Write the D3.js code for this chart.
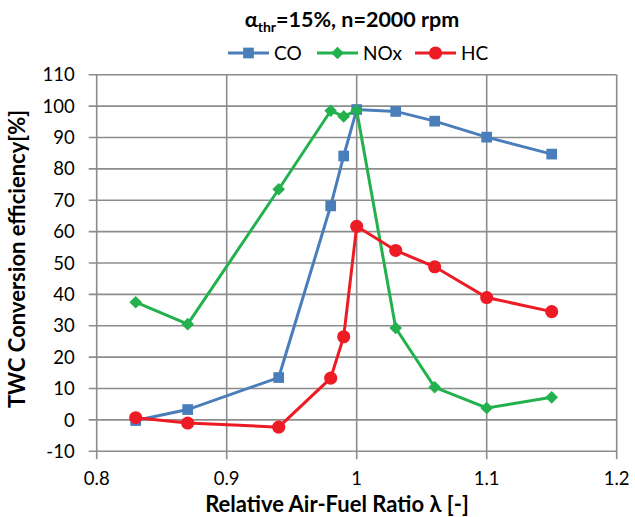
<!DOCTYPE html>
<html>
<head>
<meta charset="utf-8">
<script src="https://cdn.jsdelivr.net/npm/d3@7"></script>
<style>
  body { margin: 0; background: #fff; }
  text { font-family: Lato, "Open Sans", sans-serif; }
</style>
</head>
<body>
<svg id="chart"></svg>
<script>
// data
var lambda = [0.83, 0.87, 0.94, 0.98, 0.99, 1.0, 1.03, 1.06, 1.1, 1.15];
var coVals = [-0.2, 3.3, 13.5, 68.2, 84.1, 98.9, 98.3, 95.2, 90.1, 84.7];
var noxVals = [37.5, 30.5, 73.5, 98.5, 96.7, 98.6, 29.3, 10.4, 3.8, 7.2];
var hcVals = [0.7, -1.0, -2.3, 13.3, 26.5, 61.7, 54.0, 48.8, 39.0, 34.5];
var seriesNames = ["CO", "NOx", "HC"];
var xTicks = [0.8, 0.9, 1.0, 1.1, 1.2];
var xTickLabels = ["0.8", "0.9", "1", "1.1", "1.2"];
var yTicks = [-10, 0, 10, 20, 30, 40, 50, 60, 70, 80, 90, 100, 110];

var W = 635, H = 517;
var plotLeft = 96.7, plotTop = 74.7, width = 520, height = 376.6;

var colors = {CO: "#4a7ebb", NOx: "#22b14c", HC: "#ed1c24"};
var series = [
  {name: "CO", vals: coVals},
  {name: "NOx", vals: noxVals},
  {name: "HC", vals: hcVals}
];

var xScale = d3.scaleLinear().domain([0.8, 1.2]).range([0, width]);
var yScale = d3.scaleLinear().domain([-10, 110]).range([height, 0]);

var svgtop = d3.select("#chart")
  .attr("width", W)
  .attr("height", H);

var svg = svgtop.append("g")
  .attr("transform", "translate(" + plotLeft + "," + plotTop + ")");

//grid lines
svg.append("g").selectAll("line")
  .data(yTicks)
  .enter().append("line")
  .attr("x1", -8).attr("x2", width)
  .attr("y1", function(d) { return yScale(d); })
  .attr("y2", function(d) { return yScale(d); })
  .attr("stroke", "#8c8c8c")
  .attr("stroke-width", 1.6);

svg.append("g").selectAll("line")
  .data(xTicks)
  .enter().append("line")
  .attr("x1", function(d) { return xScale(d); })
  .attr("x2", function(d) { return xScale(d); })
  .attr("y1", 0).attr("y2", height + 8)
  .attr("stroke", "#8c8c8c")
  .attr("stroke-width", 1.6);

//tick labels
svg.append("g").selectAll("text")
  .data(yTicks)
  .enter().append("text")
  .attr("x", -22)
  .attr("y", function(d) { return yScale(d); })
  .attr("dy", "0.36em")
  .attr("text-anchor", "end")
  .style("font-size", "18.5px")
  .text(function(d) { return d; });

svg.append("g").selectAll("text")
  .data(xTicks)
  .enter().append("text")
  .attr("x", function(d) { return xScale(d); })
  .attr("y", 410.5)
  .attr("text-anchor", "middle")
  .style("font-size", "18.5px")
  .text(function(d, i) { return xTickLabels[i]; });

//lines
var line = d3.line()
  .x(function(d, i) { return xScale(lambda[i]); })
  .y(function(d) { return yScale(d); });

series.forEach(function(s) {
  svg.append("path")
    .datum(s.vals)
    .attr("fill", "none")
    .attr("stroke", colors[s.name])
    .attr("stroke-width", 3)
    .attr("d", line);
});

//markers
var sq = d3.symbol().type(d3.symbolSquare).size(115);
var dia = d3.symbol().type(d3.symbolSquare).size(80);
var circ = d3.symbol().type(d3.symbolCircle).size(135);
var shapes = {CO: sq, NOx: dia, HC: circ};
var rot = {CO: "", NOx: " rotate(45)", HC: ""};

series.forEach(function(s) {
  svg.append("g").selectAll("path")
    .data(s.vals)
    .enter().append("path")
    .attr("transform", function(d, i) {
      return "translate(" + xScale(lambda[i]) + "," + yScale(d) + ")" + rot[s.name];
    })
    .attr("d", shapes[s.name])
    .attr("fill", colors[s.name]);
});

//title
var title = svgtop.append("text")
  .attr("x", 352)
  .attr("y", 27)
  .attr("text-anchor", "middle")
  .style("font-size", "21.5px")
  .style("font-weight", "bold");
title.append("tspan").text("\u03b1");
title.append("tspan").attr("dy", 5).style("font-size", "14px").text("thr");
title.append("tspan").attr("dy", -5).text("=15%, n=2000 rpm");

//legend
var legX = [228, 317, 415];
var leg = svgtop.append("g").selectAll("g")
  .data(seriesNames)
  .enter().append("g")
  .attr("transform", function(d, i) { return "translate(" + legX[i] + ",53)"; });
leg.append("line")
  .attr("x1", 0).attr("x2", 41)
  .attr("stroke", function(d) { return colors[d]; })
  .attr("stroke-width", 3);
leg.append("path")
  .attr("transform", function(d) { return "translate(20.5,0)" + rot[d]; })
  .attr("d", function(d) { return shapes[d](); })
  .attr("fill", function(d) { return colors[d]; });
leg.append("text")
  .attr("x", 46)
  .attr("dy", "0.36em")
  .style("font-size", "19px")
  .text(function(d) { return d; });

//axis titles
svgtop.append("text")
  .attr("x", 337)
  .attr("y", 511.5)
  .attr("text-anchor", "middle")
  .style("font-size", "22px")
  .style("font-weight", "bold")
  .text("Relative Air-Fuel Ratio \u03bb [-]");

svgtop.append("text")
  .attr("transform", "translate(25,259) rotate(-90)")
  .attr("text-anchor", "middle")
  .style("font-size", "22px")
  .style("font-weight", "bold")
  .text("TWC Conversion efficiency[%]");
</script>
</body>
</html>
